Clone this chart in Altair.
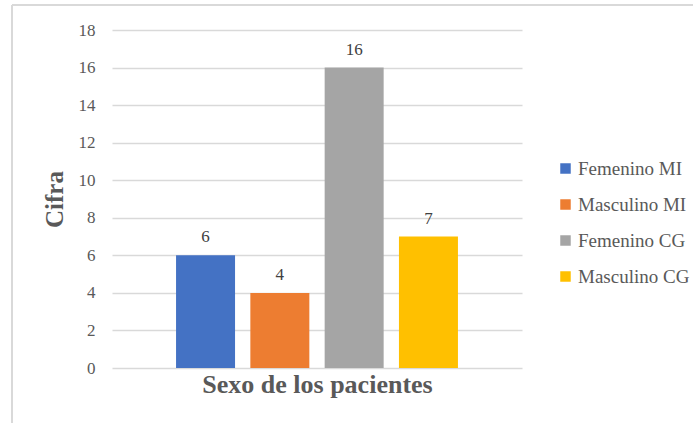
import altair as alt
import pandas as pd

series = ["Femenino MI", "Masculino MI", "Femenino CG", "Masculino CG"]
values = [6, 4, 16, 7]
colors = ["#4472C4", "#ED7D31", "#A5A5A5", "#FFC000"]
y_ticks = [0, 2, 4, 6, 8, 10, 12, 14, 16, 18]

df = pd.DataFrame({"serie": series, "cifra": values})

FONT = "Liberation Serif"

x_scale = alt.Scale(paddingInner=0.206, paddingOuter=0.862)
x_axis = alt.Axis(
    labels=False, ticks=False, domain=False, grid=False,
    title="Sexo de los pacientes",
    titleFont=FONT, titleFontSize=26, titleFontWeight="bold",
    titleColor="#595959", titlePadding=3,
)
y_axis = alt.Axis(
    values=y_ticks, grid=True, gridColor="#D9D9D9", gridWidth=1.3,
    domain=False, ticks=False, labelPadding=17, labelOverlap=False,
    labelFont=FONT, labelFontSize=17, labelColor="#595959",
    title="Cifra", titleFont=FONT, titleFontSize=25, titleFontWeight="bold",
    titleColor="#595959", titleAngle=-90, titleX=-58, titleY=169,
    titleAlign="center", titleBaseline="middle",
)
y_scale = alt.Scale(domain=[0, 18], nice=False)

bars = alt.Chart(df).mark_bar().encode(
    x=alt.X("serie:N", sort=series, scale=x_scale, axis=x_axis),
    y=alt.Y("cifra:Q", scale=y_scale, axis=y_axis),
    color=alt.Color(
        "serie:N",
        sort=series,
        scale=alt.Scale(domain=series, range=colors),
        legend=alt.Legend(
            title=None, orient="none", legendX=444, legendY=129,
            symbolType="square", symbolSize=110, symbolStrokeWidth=0,
            labelFont=FONT, labelFontSize=19, labelColor="#595959",
            rowPadding=16, labelOffset=3,
        ),
    ),
)

labels = alt.Chart(df).mark_text(
    dy=-18, font=FONT, fontSize=17, color="#404040"
).encode(
    x=alt.X("serie:N", sort=series, scale=x_scale, axis=x_axis),
    y=alt.Y("cifra:Q", scale=y_scale, axis=y_axis),
    text="cifra:Q",
)

frame_top = alt.Chart(df).mark_rule(color="#D9D9D9", strokeWidth=2).encode(
    x=alt.value(-100), x2=alt.value(600), y=alt.value(-25)
)
frame_left = alt.Chart(df).mark_rule(color="#D9D9D9", strokeWidth=2).encode(
    x=alt.value(-100), y=alt.value(-25), y2=alt.value(400)
)

chart = alt.layer(bars, labels, frame_top, frame_left).properties(
    width=410, height=338,
    background="white",
    padding={"left": 112, "top": 30, "right": 171, "bottom": 55},
    autosize=alt.AutoSizeParams(type="none"),
).configure_view(stroke=None)

chart.save("out.html", embed_options={"renderer": "svg", "actions": False})
